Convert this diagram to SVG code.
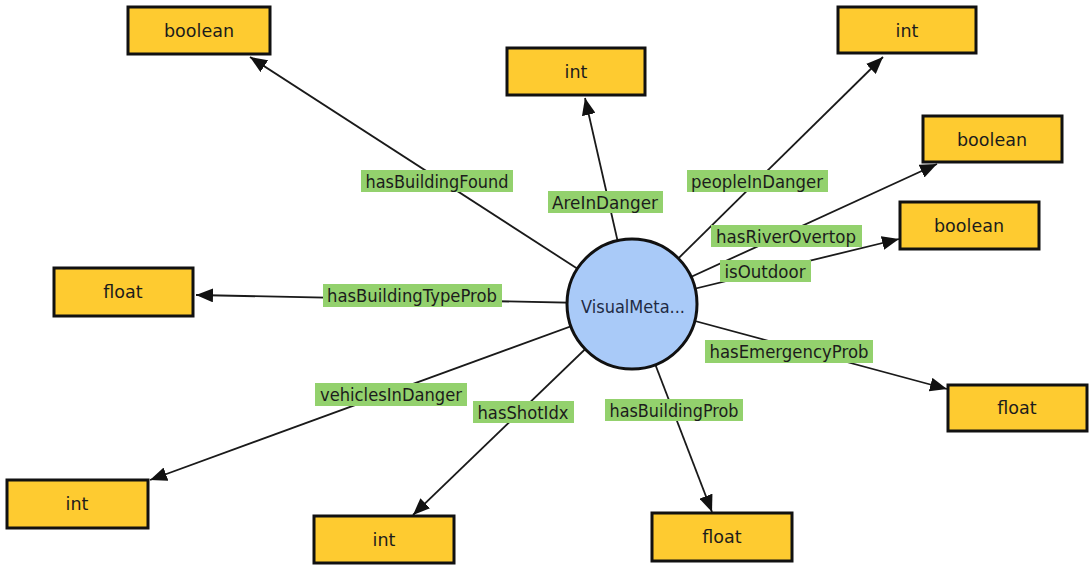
<svg xmlns="http://www.w3.org/2000/svg" width="1091" height="568" viewBox="0 0 1091 568">
<style>
.box{fill:#fecb30;stroke:#111;stroke-width:3}
.bt{font-family:"DejaVu Sans",Verdana,sans-serif;font-size:17.5px;fill:#1c1c1c;text-anchor:middle}
.lb{fill:#93d16d}
.lt{font-family:"DejaVu Sans",Verdana,sans-serif;font-size:17px;fill:#1c1c1c;text-anchor:middle}
.edge{stroke:#1a1a1a;stroke-width:1.8;fill:none;marker-end:url(#arr)}
</style>
<defs>
<marker id="arr" markerUnits="userSpaceOnUse" markerWidth="18" markerHeight="14" refX="17" refY="7" orient="auto">
<path d="M0,0 L17,7 L0,14 z" fill="#111"/>
</marker>
</defs>
<rect width="1091" height="568" fill="#fff"/>
<g id="connectors">
<line class="edge" x1="632" y1="304" x2="250" y2="57"/>
<line class="edge" x1="632" y1="304" x2="585" y2="98"/>
<line class="edge" x1="632" y1="304" x2="883" y2="57"/>
<line class="edge" x1="632" y1="304" x2="937" y2="164"/>
<line class="edge" x1="632" y1="304" x2="899" y2="239"/>
<line class="edge" x1="632" y1="304" x2="196" y2="295"/>
<line class="edge" x1="632" y1="304" x2="947" y2="389"/>
<line class="edge" x1="632" y1="304" x2="150" y2="480"/>
<line class="edge" x1="632" y1="304" x2="413" y2="515"/>
<line class="edge" x1="632" y1="304" x2="712" y2="512"/>
<g id="edge-labels">
<rect class="lb" x="361" y="170" width="152" height="22"/><text class="lt" x="437" y="187.5" textLength="143" lengthAdjust="spacingAndGlyphs">hasBuildingFound</text>
<rect class="lb" x="548" y="191" width="115" height="22"/><text class="lt" x="605" y="208.5" textLength="106" lengthAdjust="spacingAndGlyphs">AreInDanger</text>
<rect class="lb" x="687" y="170" width="141" height="22"/><text class="lt" x="757" y="187.5" textLength="132" lengthAdjust="spacingAndGlyphs">peopleInDanger</text>
<rect class="lb" x="711" y="225" width="151" height="22"/><text class="lt" x="786" y="242.5" textLength="140" lengthAdjust="spacingAndGlyphs">hasRiverOvertop</text>
<rect class="lb" x="720" y="260" width="91" height="22"/><text class="lt" x="765" y="277.5" textLength="81" lengthAdjust="spacingAndGlyphs">isOutdoor</text>
<rect class="lb" x="323" y="284" width="179" height="23"/><text class="lt" x="412" y="301.5" textLength="170" lengthAdjust="spacingAndGlyphs">hasBuildingTypeProb</text>
<rect class="lb" x="705" y="340" width="168" height="23"/><text class="lt" x="789" y="357.5" textLength="159" lengthAdjust="spacingAndGlyphs">hasEmergencyProb</text>
<rect class="lb" x="315" y="383" width="152" height="23"/><text class="lt" x="391" y="400.5" textLength="142" lengthAdjust="spacingAndGlyphs">vehiclesInDanger</text>
<rect class="lb" x="473" y="401" width="101" height="22"/><text class="lt" x="523" y="418.5" textLength="91" lengthAdjust="spacingAndGlyphs">hasShotIdx</text>
<rect class="lb" x="605" y="399" width="138" height="22"/><text class="lt" x="674" y="416.5" textLength="129" lengthAdjust="spacingAndGlyphs">hasBuildingProb</text>
</g>
</g>
<g id="center">
<circle cx="632" cy="304" r="65" fill="#a9caf8" stroke="#111" stroke-width="3"/>
<text x="633" y="313" font-family="'DejaVu Sans',Verdana,sans-serif" font-size="17.5" fill="#1f2a44" text-anchor="middle" textLength="104" lengthAdjust="spacingAndGlyphs">VisualMeta...</text>
</g>
<g id="n-boolean1"><rect class="box" x="128" y="7" width="142" height="47"/><text class="bt" x="199" y="37">boolean</text></g>
<g id="n-int1"><rect class="box" x="507" y="48" width="138" height="47"/><text class="bt" x="576" y="78">int</text></g>
<g id="n-int2"><rect class="box" x="838" y="7" width="138" height="46"/><text class="bt" x="907" y="37">int</text></g>
<g id="n-boolean2"><rect class="box" x="923" y="116" width="139" height="46"/><text class="bt" x="992" y="146">boolean</text></g>
<g id="n-boolean3"><rect class="box" x="900" y="202" width="139" height="47"/><text class="bt" x="969" y="232">boolean</text></g>
<g id="n-float1"><rect class="box" x="54" y="268" width="139" height="48"/><text class="bt" x="123" y="298">float</text></g>
<g id="n-float2"><rect class="box" x="948" y="385" width="139" height="46"/><text class="bt" x="1017" y="414">float</text></g>
<g id="n-int3"><rect class="box" x="7" y="480" width="141" height="48"/><text class="bt" x="77" y="510">int</text></g>
<g id="n-int4"><rect class="box" x="314" y="516" width="140" height="47"/><text class="bt" x="384" y="546">int</text></g>
<g id="n-float3"><rect class="box" x="652" y="513" width="140" height="48"/><text class="bt" x="722" y="543">float</text></g>
</svg>
